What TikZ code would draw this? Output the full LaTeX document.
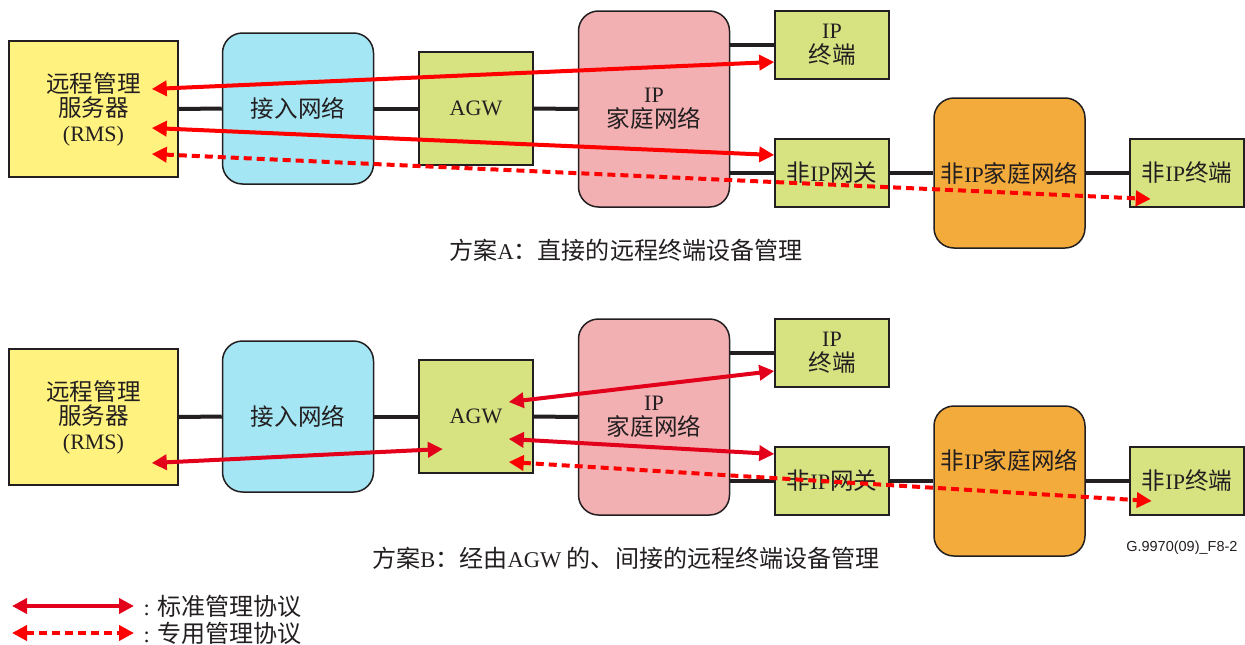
\documentclass[tikz,border=0pt]{standalone}
\usepackage{fontspec}
\setmainfont{Liberation Serif}
\newfontfamily\zh[Scale=1.07]{Noto Sans CJK SC}
\newfontfamily\figsans{Liberation Sans}
\usepackage{xcolor}
\usepackage{tikz}
\usetikzlibrary{arrows.meta,positioning,calc}

\definecolor{edge}{HTML}{231F20}
\definecolor{rmsfill}{HTML}{FFF27F}
\definecolor{accfill}{HTML}{A4E6F4}
\definecolor{termfill}{HTML}{D7E281}
\definecolor{ipnfill}{HTML}{F2B0B3}
\definecolor{nipnfill}{HTML}{F3AB3B}
\definecolor{redA}{HTML}{FF0000}
\definecolor{redB}{HTML}{E3001B}

\begin{document}
\begin{tikzpicture}[
    x=1pt, y=-1pt,
    >={Triangle[length=15pt,width=15pt]},
    box/.style={rectangle, draw=edge, line width=1.5pt, inner sep=0pt, text=edge, align=center, font=\fontsize{22}{24.5}\selectfont},
    net/.style={box, rounded corners=20pt, minimum width=151pt},
    term/.style={box, fill=termfill, minimum width=114pt, minimum height=68pt},
    wire/.style={draw=edge, line width=4pt},
    stdproto/.style={<->, line width=4pt},
    prvproto/.style={<->, line width=4pt, dash pattern=on 8pt off 5pt, redA},
    caption/.style={text=edge, font=\fontsize{22.5}{25}\selectfont}
]
\useasboundingbox (0,0) rectangle (1245,645);

% Scheme A
\node [box, fill=rmsfill, minimum width=169pt, minimum height=136pt] (rmsA) at (93.5,109) {{\zh 远程管理}\\{\zh 服务器}\\(RMS)};
\node [net, fill=accfill, minimum height=151pt] (accA) at (298,108.5) {\zh 接入网络};
\node [box, fill=termfill, minimum width=114pt, minimum height=113pt] (agwA) at (476,108.5) {AGW};
\node [net, fill=ipnfill, minimum height=196pt] (ipnA) at (654,109) {IP\\{\zh 家庭网络}};
\node [term] (iptA) at (832,45) {IP\\{\zh 终端}};
\node [term] (gwA) at (832,173) {{\zh 非}IP{\zh 网关}};
\node [net, fill=nipnfill, minimum height=150pt] (nipnA) at (1009.5,173) {{\zh 非}IP{\zh 家庭网络}};
\node [term] (niptA) at (1187,173) {{\zh 非}IP{\zh 终端}};
\node [caption] (capA) at (626,250) {{\zh 方案}A{\zh ：直接的远程终端设备管理}};

% Scheme B
\node [box, fill=rmsfill, minimum width=169pt, minimum height=136pt] (rmsB) at (93.5,417) {{\zh 远程管理}\\{\zh 服务器}\\(RMS)};
\node [net, fill=accfill, minimum height=151pt] (accB) at (298,416.5) {\zh 接入网络};
\node [box, fill=termfill, minimum width=114pt, minimum height=113pt] (agwB) at (476,416.5) {AGW};
\node [net, fill=ipnfill, minimum height=196pt] (ipnB) at (654,417) {IP\\{\zh 家庭网络}};
\node [term] (iptB) at (832,353) {IP\\{\zh 终端}};
\node [term] (gwB) at (832,481) {{\zh 非}IP{\zh 网关}};
\node [net, fill=nipnfill, minimum height=150pt] (nipnB) at (1009.5,481) {};
\node [box, draw=none] (nipnBtext) at ([yshift=21pt]nipnB.center) {{\zh 非}IP{\zh 家庭网络}};
\node [term] (niptB) at (1187,481) {{\zh 非}IP{\zh 终端}};
\node [caption] (capB) at (626,558) {{\zh 方案}B{\zh ：经由}AGW {\zh 的、间接的远程终端设备管理}};
\node [anchor=east, text=edge, font=\figsans\fontsize{14.5}{16}\selectfont] (figid) at (1241,548) {G.9970(09)\_F8-2};

% Legend
\coordinate (legstdL) at (12,606);
\coordinate (legstdR) at (134,606);
\coordinate (legprvL) at (12,633);
\coordinate (legprvR) at (134,633);
\node [caption, anchor=west] (legstd) at (140,606) {: {\zh 标准管理协议}};
\node [caption, anchor=west] (legprv) at (140,633) {: {\zh 专用管理协议}};

% Links A
\draw [wire] (rmsA.east) -- (accA.west);
\draw [wire] (accA.east) -- (agwA.west);
\draw [wire] (agwA.east) -- (ipnA.west);
\draw [wire] (ipnA.east |- iptA) -- (iptA.west);
\draw [wire] (ipnA.east |- gwA) -- (gwA.west);
\draw [wire] (gwA.east) -- (nipnA.west);
\draw [wire] (nipnA.east) -- (niptA.west);

% Links B
\draw [wire] (rmsB.east) -- (accB.west);
\draw [wire] (accB.east) -- (agwB.west);
\draw [wire] (agwB.east) -- (ipnB.west);
\draw [wire] (ipnB.east |- iptB) -- (iptB.west);
\draw [wire] (ipnB.east |- gwB) -- (gwB.west);
\draw [wire] (gwB.east) -- (nipnB.west);
\draw [wire] (nipnB.east) -- (niptB.west);

% Management A
\draw [stdproto, redA] ([shift={(-27,-20)}]rmsA.east) -- ([shift={(0,17)}]iptA.west);
\draw [stdproto, redA] ([shift={(-27,19)}]rmsA.east) -- ([shift={(0,-18)}]gwA.west);
\draw [prvproto] ([shift={(-27,45)}]rmsA.east) -- ([shift={(21.5,26)}]niptA.west);

% Management B
\draw [stdproto, redB] ([shift={(-27,46)}]rmsB.east) -- ([shift={(24.6,32.5)}]agwB.west);
\draw [stdproto, redB] ([shift={(-25,-14.5)}]agwB.east) -- ([shift={(0,18)}]iptB.west);
\draw [stdproto, redB] ([shift={(-25,22.5)}]agwB.east) -- ([shift={(0,-27)}]gwB.west);
\draw [prvproto] ([shift={(-25,45.5)}]agwB.east) -- ([shift={(22.5,20)}]niptB.west);

% Legend arrows
\draw [stdproto, redB] (legstdL) -- (legstdR);
\draw [prvproto] (legprvL) -- (legprvR);

\end{tikzpicture}
\end{document}
